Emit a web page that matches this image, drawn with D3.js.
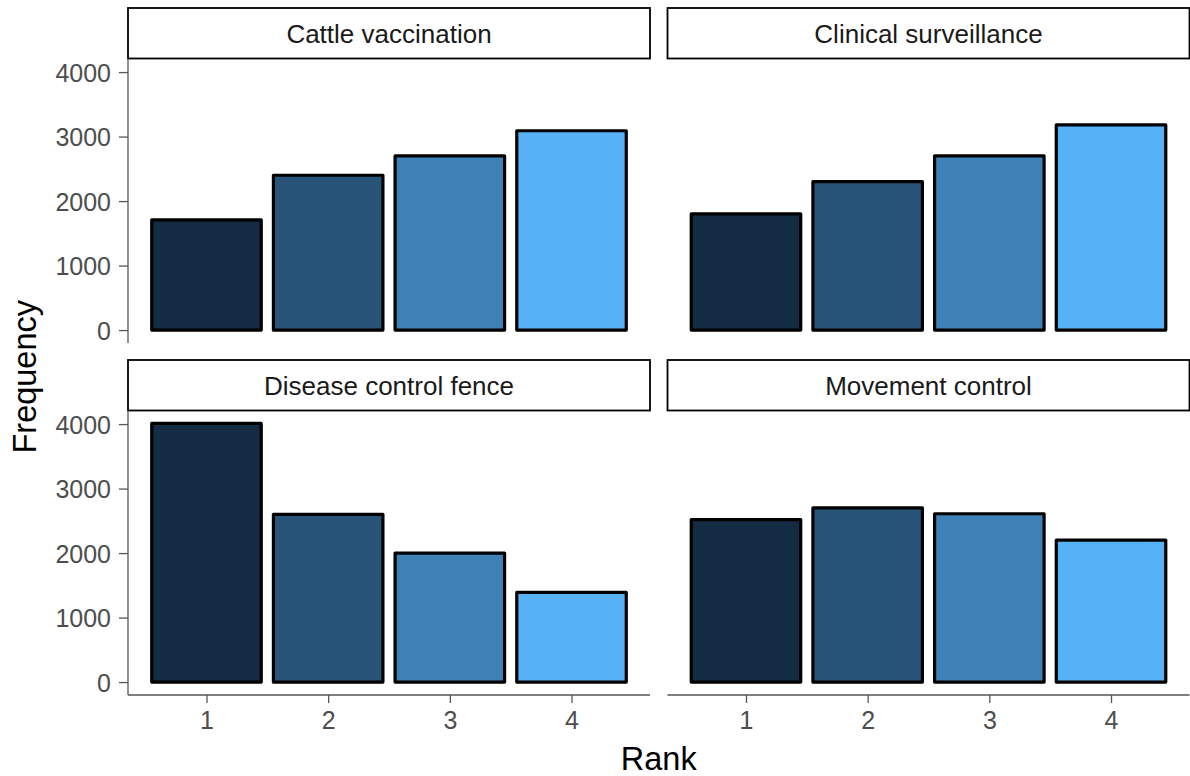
<!DOCTYPE html>
<html>
<head>
<meta charset="utf-8">
<script src="https://cdn.jsdelivr.net/npm/d3@7"></script>
<style>
  body { margin: 0; background: #fff; }
  text { font-family: "Liberation Sans", Arial, sans-serif; }
</style>
</head>
<body>
<svg id="chart" width="1190" height="776"></svg>
<script>
// data
var ranks = [1, 2, 3, 4];
var strategies = ["Cattle vaccination", "Clinical surveillance", "Disease control fence", "Movement control"];
var cattleVaccination = [1710, 2400, 2700, 3090];
var clinicalSurveillance = [1800, 2300, 2700, 3180];
var diseaseControlFence = [4010, 2600, 2000, 1390];
var movementControl = [2520, 2700, 2610, 2200];
var yTicks = [0, 1000, 2000, 3000, 4000];

var seriesList = [cattleVaccination, clinicalSurveillance, diseaseControlFence, movementControl];

var width = 1190;
var height = 776;
var left = 128;
var panelW = 522;
var gapX = 17.5;
var stripH = 50.5;
var panelH = 284.5;
var rowTops = [8, 360];

var svg = d3.select("#chart");

var maxVal = d3.max(seriesList, function (s) { return d3.max(s); });

// ggplot style continuous expansion (5%) around bars of width 0.9
var barW = 0.9;
var xlo = 1 - barW / 2, xhi = 4 + barW / 2;
var xpad = (xhi - xlo) * 0.05;

var fill = d3.scaleLinear()
    .domain([1, 4])
    .range(["#132B43", "#56B1F7"])
    .interpolate(d3.interpolateLab);

strategies.forEach(function (name, i) {
    var col = i % 2;
    var row = Math.floor(i / 2);
    var x0 = left + col * (panelW + gapX);
    var stripY = rowTops[row];
    var py0 = stripY + stripH;
    var py1 = py0 + panelH;

    var xScale = d3.scaleLinear().domain([xlo - xpad, xhi + xpad]).range([x0, x0 + panelW]);
    var yScale = d3.scaleLinear().domain([-0.05 * maxVal, 1.05 * maxVal]).range([py1, py0]);

    var g = svg.append("g").attr("class", "panel");

    // bars
    g.selectAll("rect.bar")
        .data(ranks.map(function (r, k) { return { rank: r, value: seriesList[i][k] }; }))
        .enter()
        .append("rect")
        .attr("class", "bar")
        .attr("x", function (d) { return xScale(d.rank - barW / 2); })
        .attr("width", function (d) { return xScale(d.rank + barW / 2) - xScale(d.rank - barW / 2); })
        .attr("y", function (d) { return yScale(d.value); })
        .attr("height", function (d) { return yScale(0) - yScale(d.value); })
        .attr("fill", function (d) { return fill(d.rank); })
        .attr("stroke", "#000")
        .attr("stroke-width", 3.2)
        .attr("stroke-linejoin", "round");

    // strip
    g.append("rect")
        .attr("x", x0)
        .attr("y", stripY)
        .attr("width", panelW)
        .attr("height", stripH)
        .attr("fill", "#fff")
        .attr("stroke", "#000")
        .attr("stroke-width", 1.8);

    g.append("text")
        .attr("x", x0 + panelW / 2)
        .attr("y", stripY + stripH / 2 + 9.5)
        .attr("text-anchor", "middle")
        .attr("font-size", 26)
        .attr("fill", "#1a1a1a")
        .text(name);

    // y axis only on the left column
    if (col == 0) {
        var yAxis = d3.axisLeft(yScale).tickValues(yTicks).tickFormat(d3.format("d"))
            .tickSize(9).tickPadding(8).tickSizeOuter(0);
        var ya = g.append("g")
            .attr("class", "yAxis")
            .attr("transform", "translate(" + x0 + ",0)")
            .call(yAxis);
        ya.select(".domain").remove();
        ya.append("line")
            .attr("x1", 0).attr("x2", 0)
            .attr("y1", py0).attr("y2", py1)
            .attr("stroke", "#555")
            .attr("stroke-width", 1.3);
        ya.selectAll(".tick line").attr("stroke", "#555").attr("stroke-width", 1.3);
        ya.selectAll(".tick text")
            .attr("font-size", 25)
            .attr("fill", "#4d4d4d")
            .attr("font-family", "'Liberation Sans', Arial, sans-serif")
            .attr("dy", "0.36em");
    }

    // x axis only on the bottom row
    if (row == 1) {
        var xAxis = d3.axisBottom(xScale).tickValues(ranks).tickFormat(d3.format("d"))
            .tickSize(8).tickPadding(8).tickSizeOuter(0);
        var xa = g.append("g")
            .attr("class", "xAxis")
            .attr("transform", "translate(0," + py1 + ")")
            .call(xAxis);
        xa.select(".domain").remove();
        xa.append("line")
            .attr("x1", x0).attr("x2", x0 + panelW)
            .attr("y1", 0).attr("y2", 0)
            .attr("stroke", "#555")
            .attr("stroke-width", 1.3);
        xa.selectAll(".tick line").attr("stroke", "#555").attr("stroke-width", 1.3);
        xa.selectAll(".tick text")
            .attr("font-size", 25)
            .attr("fill", "#4d4d4d")
            .attr("font-family", "'Liberation Sans', Arial, sans-serif")
            .attr("dy", "0.72em");
    }
});

// axis titles
svg.append("text")
    .attr("x", left + panelW + gapX / 2)
    .attr("y", 770)
    .attr("text-anchor", "middle")
    .attr("font-size", 32.5)
    .attr("fill", "#000")
    .text("Rank");

// centred on the panel area, strips excluded
var panelsTop = rowTops[0] + stripH;
var panelsBottom = rowTops[1] + stripH + panelH;
svg.append("text")
    .attr("transform", "translate(36," + ((panelsTop + panelsBottom) / 2) + ") rotate(-90)")
    .attr("text-anchor", "middle")
    .attr("font-size", 32.5)
    .attr("fill", "#000")
    .text("Frequency");
</script>
</body>
</html>
